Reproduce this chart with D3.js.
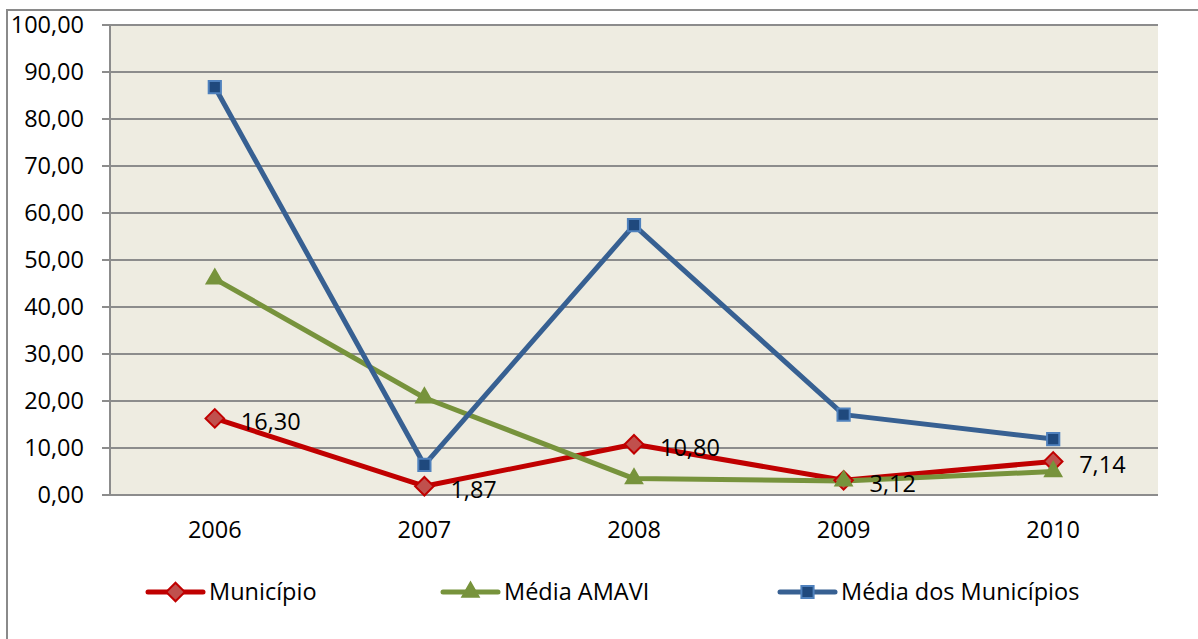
<!DOCTYPE html>
<html>
  <head>
    <script src="https://d3js.org/d3.v7.min.js"></script>
    <style>
      body { margin: 0; background-color: #fff; }
      text { font-family: "Open Sans", Lato, sans-serif; fill: #000; }
    </style>
  </head>
  <body>
    <svg id="canvas" width="1198" height="639"></svg>
  </body>

  <script>
    const years = ['2006', '2007', '2008', '2009', '2010']
    const municipio = [16.30, 1.87, 10.80, 3.12, 7.14]
    const mediaAmavi = [46.0, 20.7, 3.5, 3.0, 5.0]
    const mediaMunicipios = [86.8, 6.4, 57.4, 17.1, 11.9]
    const yTicks = [0, 10, 20, 30, 40, 50, 60, 70, 80, 90, 100]

    const series = [
      { name: 'Município', values: municipio, line: '#C00000', fill: '#C0504D', edge: '#C00000', shape: 'diamond', labels: true },
      { name: 'Média AMAVI', values: mediaAmavi, line: '#77933C', fill: '#77933C', edge: '#77933C', shape: 'triangle', labels: false },
      { name: 'Média dos Municípios', values: mediaMunicipios, line: '#376092', fill: '#1F497D', edge: '#4F81BD', shape: 'square', labels: false }
    ]

    const fmt = v => v.toFixed(2).replace('.', ',')
    const fontSize = 23.5

    const margin = { top: 25, right: 40, bottom: 144, left: 110 }
    const svg = d3.select('#canvas')
    const width = 1198 - margin.left - margin.right
    const height = 639 - margin.top - margin.bottom

    // outer chart frame (runs off the right and bottom edges)
    svg.append('rect')
      .attr('x', 7).attr('y', 10)
      .attr('width', 1230).attr('height', 660)
      .attr('fill', 'none').attr('stroke', '#8a8a8a').attr('stroke-width', 2)

    const g = svg.append('g').attr('transform', `translate(${margin.left}, ${margin.top})`)

    const x = d3.scaleBand().domain(years).range([0, width])
    const y = d3.scaleLinear().domain([0, 100]).range([height, 0])

    g.append('rect')
      .attr('width', width).attr('height', height)
      .attr('fill', '#EEECE1')

    // gridlines with tick stubs on the left
    g.append('g').selectAll('line').data(yTicks).join('line')
      .attr('x1', -8).attr('x2', width)
      .attr('y1', d => y(d)).attr('y2', d => y(d))
      .attr('stroke', '#8c8c8c').attr('stroke-width', 2)

    g.append('line')
      .attr('x1', 0).attr('x2', 0).attr('y1', 0).attr('y2', height)
      .attr('stroke', '#8c8c8c').attr('stroke-width', 2)

    g.append('g').selectAll('text').data(yTicks).join('text')
      .attr('x', -26).attr('y', d => y(d))
      .attr('dy', '0.36em')
      .attr('text-anchor', 'end')
      .attr('font-size', fontSize)
      .text(fmt)

    g.append('g').selectAll('text').data(years).join('text')
      .attr('x', d => x(d) + x.bandwidth() / 2)
      .attr('y', height + 35)
      .attr('dy', '0.36em')
      .attr('text-anchor', 'middle')
      .attr('font-size', fontSize)
      .text(d => d)

    const symbolFor = shape => {
      if (shape === 'diamond') return d3.symbol().type(d3.symbolDiamond2).size(220)()
      if (shape === 'triangle') return d3.symbol().type(d3.symbolTriangle2).size(190)()
      return d3.symbol().type(d3.symbolSquare2).size(190)()
    }

    const line = d3.line()
      .x((d, i) => x(years[i]) + x.bandwidth() / 2)
      .y(d => y(d))

    series.forEach(s => {
      g.append('path')
        .datum(s.values)
        .attr('d', line)
        .attr('fill', 'none')
        .attr('stroke', s.line)
        .attr('stroke-width', 5)
        .attr('stroke-linejoin', 'round')
    })

    series.forEach(s => {
      g.append('g').selectAll('path').data(s.values).join('path')
        .attr('d', symbolFor(s.shape))
        .attr('transform', (d, i) => `translate(${x(years[i]) + x.bandwidth() / 2}, ${y(d)})`)
        .attr('fill', s.fill)
        .attr('stroke', s.edge)
        .attr('stroke-width', 2)
    })

    series.filter(s => s.labels).forEach(s => {
      g.append('g').selectAll('text').data(s.values).join('text')
        .attr('x', (d, i) => x(years[i]) + x.bandwidth() / 2 + 26)
        .attr('y', d => y(d) + 3)
        .attr('dy', '0.36em')
        .attr('font-size', fontSize)
        .text(fmt)
    })

    // legend
    const legendX = [148, 443, 780]
    const legend = svg.append('g').attr('transform', 'translate(0, 592)')
    series.forEach((s, i) => {
      const lg = legend.append('g').attr('transform', `translate(${legendX[i]}, 0)`)
      lg.append('line')
        .attr('x1', 0).attr('x2', 55)
        .attr('stroke', s.line).attr('stroke-width', 5).attr('stroke-linecap', 'round')
      lg.append('path')
        .attr('d', symbolFor(s.shape))
        .attr('transform', 'translate(27.5, 0)')
        .attr('fill', s.fill).attr('stroke', s.edge).attr('stroke-width', 2)
      lg.append('text')
        .attr('x', 61).attr('dy', '0.36em')
        .attr('font-size', fontSize)
        .text(s.name)
    })
  </script>
</html>
